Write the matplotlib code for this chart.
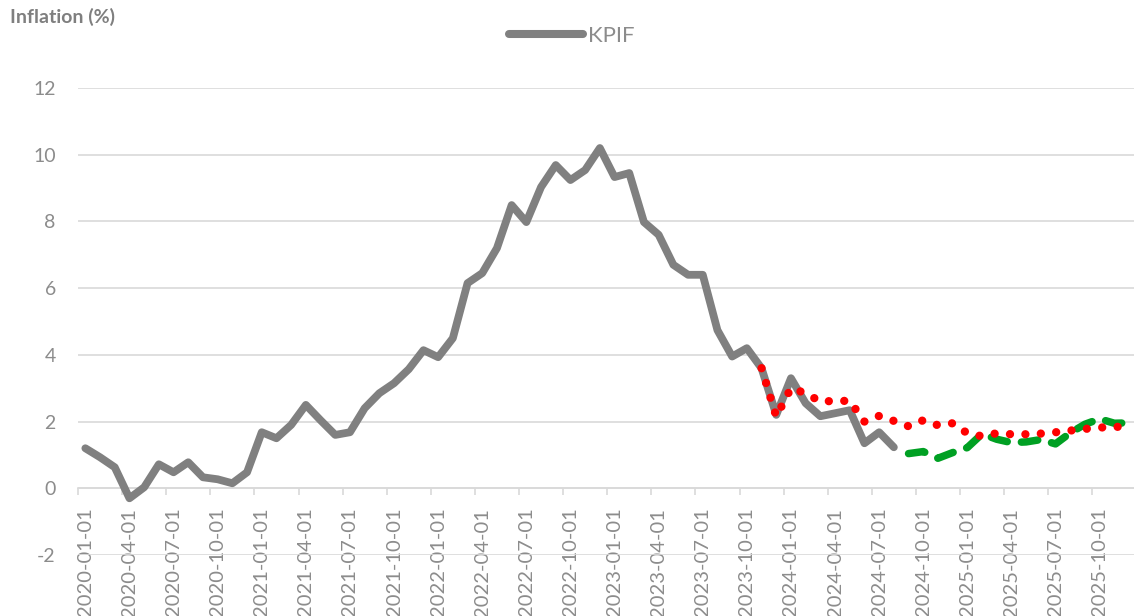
import matplotlib
matplotlib.use("Agg")
import matplotlib.pyplot as plt
from matplotlib.lines import Line2D
import numpy as np
import pandas as pd

plt.rcParams['font.family'] = ['Lato', 'DejaVu Sans']

# ---- data ----
months = pd.date_range('2020-01-01', '2025-12-01', freq='MS')
month_labels = [d.strftime('%Y-%m-%d') for d in months]

kpif_start = '2020-01-01'
kpif = [1.2, 0.93, 0.63, -0.3, 0.03, 0.72, 0.48, 0.78, 0.33, 0.27, 0.15, 0.48,
        1.68, 1.5, 1.9, 2.5, 2.04, 1.6, 1.68, 2.4, 2.85, 3.15, 3.57, 4.14,
        3.93, 4.5, 6.15, 6.45, 7.2, 8.49, 7.98, 9.03, 9.69, 9.24, 9.54, 10.2,
        9.33, 9.45, 7.98, 7.6, 6.7, 6.4, 6.4, 4.74, 3.95, 4.2, 3.6, 2.2,
        3.3, 2.55, 2.16, 2.25, 2.34, 1.35, 1.68, 1.23]

red_start = '2023-11-01'
red_forecast = [3.6, 2.15,
                3.0, 2.85, 2.6, 2.62, 2.62, 2.0, 2.17, 2.02, 1.86, 2.04, 1.89, 1.95,
                1.65, 1.56, 1.65, 1.62, 1.62, 1.64, 1.68, 1.73, 1.78, 1.82, 1.84, 1.85]

green_start = '2024-09-01'
green_forecast = [1.04, 1.1, 0.9, 1.07, 1.22, 1.63, 1.47, 1.37, 1.39, 1.46,
                  1.33, 1.66, 1.92, 2.08, 1.95, 1.96]

yticks = [-2, 0, 2, 4, 6, 8, 10, 12]

def idx(start, n):
    i0 = list(months).index(pd.Timestamp(start))
    return np.arange(i0, i0 + n)

# ---- figure ----
W, H = 1134, 616
fig = plt.figure(figsize=(W / 100, H / 100), dpi=100)
ax = fig.add_axes([78 / W, (H - 555) / H, 1058.4 / W, (555 - 88) / H])

grid_c = '#d9d9d9'
text_c = '#8c8c8c'

ax.plot(idx(kpif_start, len(kpif)), kpif, color='#808080', lw=5.6,
        solid_capstyle='round', solid_joinstyle='round', zorder=3, label='KPIF')
ax.plot(idx(green_start, len(green_forecast)), green_forecast, color='#00A023', lw=5.4,
        linestyle=(0, (2.2, 1.9)), dash_capstyle='round', dash_joinstyle='round', zorder=4)
ax.plot(idx(red_start, len(red_forecast)), red_forecast, color='#ff0000', lw=6.0,
        linestyle=(0, (0.001, 1.85)), dash_capstyle='round', zorder=5)

ax.set_xlim(-0.5, len(months) - 0.5)
ax.set_ylim(-2, 12)
ax.set_yticks(yticks)
ax.set_yticklabels([str(v) for v in yticks])
ax.yaxis.grid(True, color=grid_c, lw=1.2)
ax.set_axisbelow(True)

for s in ['top', 'right', 'left']:
    ax.spines[s].set_visible(False)
ax.spines['bottom'].set_position(('data', 0))
ax.spines['bottom'].set_color(grid_c)
ax.spines['bottom'].set_linewidth(1.2)

pos = np.arange(len(months))
ax.set_xticks(pos[::3])
ax.set_xticklabels(month_labels[::3], rotation=90)
ax.set_xticks(np.arange(-0.5, len(months), 3), minor=True)
ax.tick_params(axis='x', which='major', length=0, pad=14, labelsize=14.5, labelcolor=text_c)
ax.tick_params(axis='x', which='minor', length=5, width=1.2, color=grid_c, direction='out')
ax.tick_params(axis='y', length=0, pad=16, labelsize=14, labelcolor=text_c)

fig.text(10 / W, 1 - 17 / H, 'Inflation (%)', fontsize=14, fontweight='bold',
         color='#7f7f7f', va='center', ha='left')

h = Line2D([], [], color='#808080', lw=5.8, solid_capstyle='round')
fig.legend(handles=[h], labels=['KPIF'], loc='center', bbox_to_anchor=(572 / W, 1 - 36 / H),
           frameon=False, fontsize=16, handlelength=3.3, handletextpad=0.25,
           labelcolor=text_c, borderpad=0, borderaxespad=0)

fig.savefig('out.png', dpi=100)
